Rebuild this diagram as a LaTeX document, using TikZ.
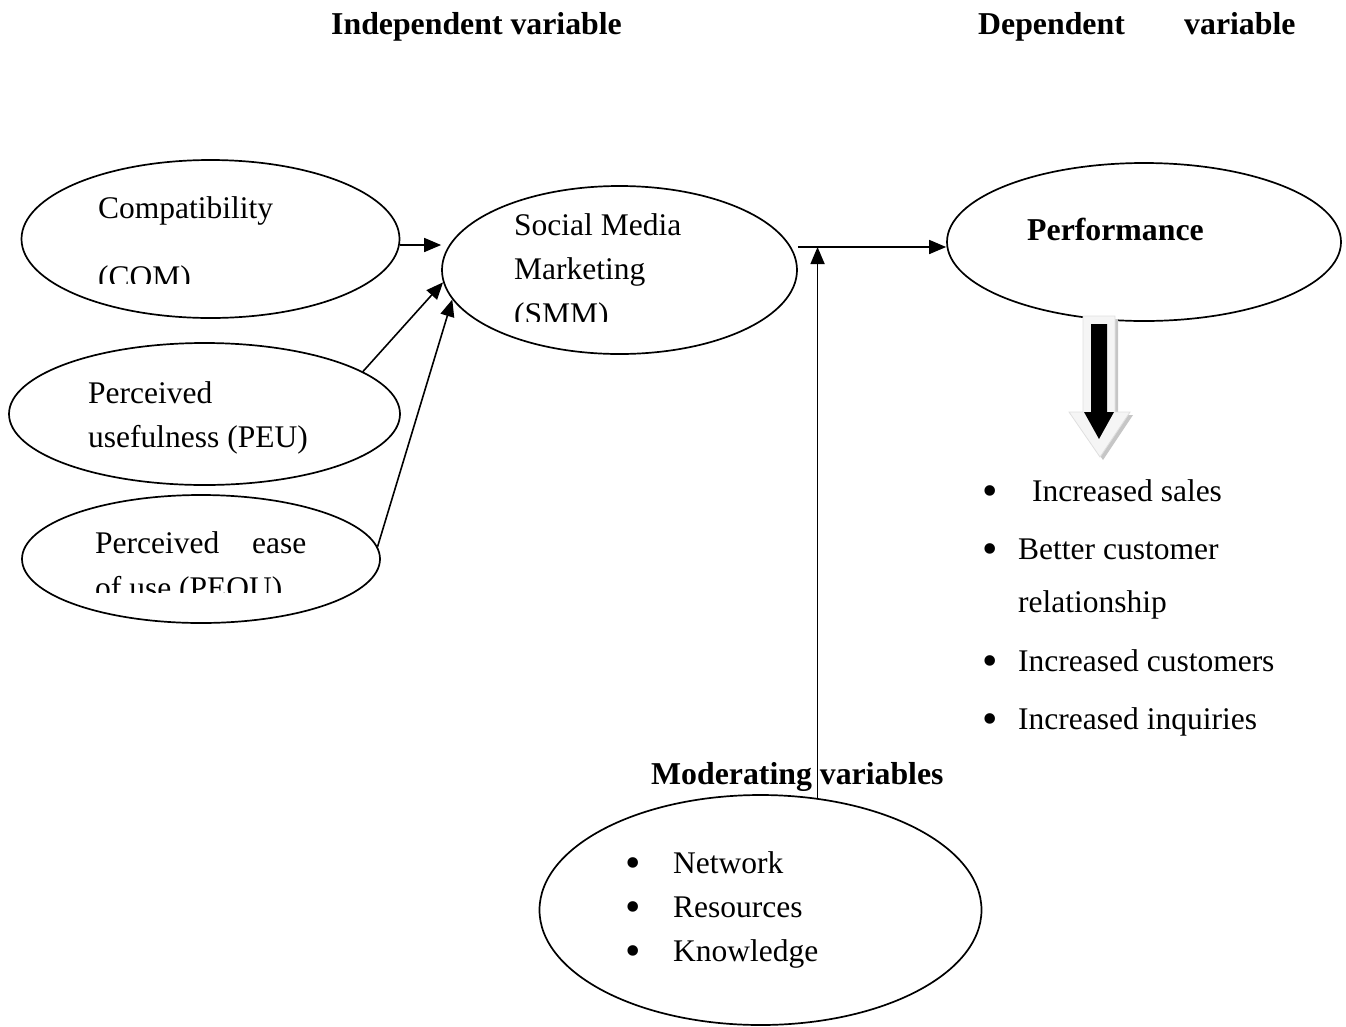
\documentclass[tikz,border=0pt]{standalone}
\usepackage{fontspec}
\setmainfont{Liberation Serif}
\usetikzlibrary{shapes.geometric,arrows.meta}
\begin{document}
\begin{tikzpicture}[x=1pt,y=-1pt,
  ell/.style={draw,ellipse,line width=1.7pt,inner sep=0pt},
  txt/.style={anchor=base west,inner sep=0pt,font=\fontsize{31.5}{38}\selectfont},
  btxt/.style={anchor=base west,inner sep=0pt,font=\fontsize{31.8}{38}\selectfont\bfseries},
  bul/.style={anchor=base,inner sep=0pt,font=\fontsize{44}{50}\selectfont},
  arr/.style={line width=1.6pt,-{Triangle[length=17pt,width=14pt]}}]
\useasboundingbox (0,0) rectangle (1346,1026);

% titles
\node[btxt] (tind) at (331,34) {Independent variable};
\node[btxt] (tdep1) at (978,34) {Dependent};
\node[btxt] (tdep2) at (1184,34) {variable};

% ellipses
\node[ell,minimum width=378pt,minimum height=158pt] (com) at (210.5,239) {};
\node[ell,minimum width=355pt,minimum height=168pt] (smm) at (619.5,270) {};
\node[ell,minimum width=394pt,minimum height=158pt] (perf) at (1144,242) {};
\node[ell,minimum width=391pt,minimum height=142pt] (peu) at (204.5,414) {};
\node[ell,minimum width=358pt,minimum height=128pt] (peou) at (201,559) {};
\node[ell,minimum width=442pt,minimum height=230pt] (mod) at (760.5,910) {};

% ellipse texts
\node[txt] (tcom1) at (98,218) {Compatibility};
\begin{scope}
  \clip (0,150) rectangle (420,283);
  \node[txt] (tcom2) at (98,287) {(COM)};
\end{scope}
\node[txt] (tsmm1) at (514,235) {Social Media};
\node[txt] (tsmm2) at (514,279) {Marketing};
\begin{scope}
  \clip (430,180) rectangle (800,321);
  \node[txt] (tsmm3) at (514,324) {(SMM)};
\end{scope}
\node[btxt] (tperf) at (1027,240) {Performance};
\node[txt] (tpeu1) at (88,403) {Perceived};
\node[txt] (tpeu2) at (88,447) {usefulness (PEU)};
\node[txt] (tpeou1) at (95,553) {Perceived};
\node[txt] (tpeou1b) at (252,553) {ease};
\begin{scope}
  \clip (0,490) rectangle (400,592);
  \node[txt] (tpeou2) at (95,598) {of use (PEOU)};
\end{scope}

% connectors
\coordinate (c1) at ([yshift=-6pt]com.east);
\draw[arr] (c1) -- (c1 -| smm.west);
\draw[arr] (peu.15) -- (smm.184);
\draw[arr] (peou.4) -- (smm.190);
\coordinate (s1) at ([yshift=23pt]smm.east);
\draw[arr] (s1) -- (s1 -| perf.west);

% moderating
\node[btxt] (tmod) at (651,784) {Moderating variables};
\draw[arr] (mod.63) -- (mod.63 |- s1);
\node[bul] (mb1) at (633,877) {•};
\node[bul] (mb2) at (633,921) {•};
\node[bul] (mb3) at (633,965) {•};
\node[txt] (m1) at (673,873) {Network};
\node[txt] (m2) at (673,917) {Resources};
\node[txt] (m3) at (673,961) {Knowledge};

% block arrow
\fill[gray!45] (1086,319) -- (1118,319) -- (1118,415) -- (1133,415) -- (1103,460) -- (1072,415) -- (1086,415) -- cycle;
\filldraw[fill=gray!8,draw=gray!25,line width=0.8pt] (1083,316) -- (1115,316) -- (1115,412) -- (1130,412) -- (1100,457) -- (1069,412) -- (1083,412) -- cycle;
\fill[black] (1091,324) -- (1107,324) -- (1107,412) -- (1114,412) -- (1099,439) -- (1084,412) -- (1091,412) -- cycle;

% performance list
\node[bul] (pb1) at (990,505) {•};
\node[bul] (pb2) at (990,563) {•};
\node[bul] (pb3) at (990,675) {•};
\node[bul] (pb4) at (990,733) {•};
\node[txt] (p1) at (1032,501) {Increased sales};
\node[txt] (p2) at (1018,559) {Better customer};
\node[txt] (p2b) at (1018,612) {relationship};
\node[txt] (p3) at (1018,671) {Increased customers};
\node[txt] (p4) at (1018,729) {Increased inquiries};
\end{tikzpicture}
\end{document}
